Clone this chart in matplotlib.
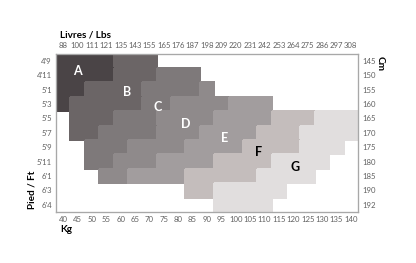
import numpy as np
import matplotlib
matplotlib.use('Agg')
import matplotlib.pyplot as plt
from matplotlib.colors import ListedColormap, BoundaryNorm

# ── DATA ───────────────────────────────────────────────────
lbs_labels = [88, 100, 111, 121, 135, 143, 155, 165, 176, 187, 198,
              209, 220, 231, 242, 253, 264, 275, 286, 297, 308]
kg_labels  = [40, 45, 50, 55, 60, 65, 70, 75, 80, 85, 90,
              95, 100, 105, 110, 115, 120, 125, 130, 135, 140]
ft_labels  = ["4'9", "4'11", "5'1", "5'3", "5'5", "5'7",
              "5'9", "5'11", "6'1", "6'3", "6'4"]
cm_labels  = [145, 150, 155, 160, 165, 170, 175, 180, 185, 190, 192]

sizes = ['A', 'B', 'C', 'D', 'E', 'F', 'G']

# one string per height row (top -> bottom), one char per weight column
size_grid = [
    "AAAABBB..............",
    "AAAABBBCCC...........",
    "AABBBBCCCCD..........",
    "ABBBBBCCDDDDEEE......",
    ".BBBCCCDDDDEEEEFFFGGG",
    ".BBCCCCDDDEEEEFFFGGGG",
    "..CCCDDDDEEEEFFFFGGG.",
    "..CCDDDEEEEFFFFGGGG..",
    "...DDEEEEFFFFFGGGG...",
    ".........FFGGGGG.....",
    "...........GGGG......",
]

# ── STYLE ──────────────────────────────────────────────────
FONT = 'Lato'
TICK_COLOR = '#606060'
SPINE_COLOR = '#a8a8a8'
size_colors = ['#4a4446', '#6b6566', '#7e797a', '#8f8a8b',
               '#a29d9e', '#c4bdbc', '#e1dede']
text_colors = ['white', 'white', 'white', 'white', 'white', 'black', 'black']
label_xy = [(1.5, 1.2), (4.95, 2.7), (7.1, 3.7), (9.05, 4.9),
            (11.75, 5.85), (14.1, 6.85), (16.6, 7.9)]

plt.rcParams['font.family'] = [FONT, 'DejaVu Sans']

# ── GRID → CODES ───────────────────────────────────────────
code = {s: i for i, s in enumerate(sizes)}
mat = np.array([[code.get(ch, -1) for ch in row] for row in size_grid], dtype=float)
mat = np.ma.masked_less(mat, 0)

cmap = ListedColormap(size_colors)
norm = BoundaryNorm(np.arange(-0.5, len(sizes) + 0.5), cmap.N)

fig = plt.figure(figsize=(4.16, 2.63), dpi=100)
ax = fig.add_axes([56 / 416, 1 - 212 / 263, 302 / 416, 158.5 / 263])

ncol, nrow = len(kg_labels), len(ft_labels)
ax.pcolormesh(np.arange(ncol + 1), np.arange(nrow + 1), mat,
              cmap=cmap, norm=norm, edgecolors='face', linewidth=0.2)
ax.set_xlim(0, ncol)
ax.set_ylim(nrow, 0)

for s, (x, y), tc in zip(sizes, label_xy, text_colors):
    ax.text(x, y, s, ha='center', va='center', fontsize=9,
            fontweight='bold', color=tc)

xt = np.arange(ncol) + 0.5
yt = np.arange(nrow) + 0.5
ax.set_xticks(xt)
ax.set_xticklabels(kg_labels)
ax.set_yticks(yt)
ax.set_yticklabels(ft_labels)

axt = ax.twiny()
axt.set_xlim(ax.get_xlim())
axt.set_xticks(xt)
axt.set_xticklabels(lbs_labels)

axr = ax.twinx()
axr.set_ylim(ax.get_ylim())
axr.set_yticks(yt)
axr.set_yticklabels(cm_labels)

for a in (ax, axt, axr):
    a.tick_params(length=0, labelsize=5.6, labelcolor=TICK_COLOR, pad=3)
    for sp in a.spines.values():
        sp.set_color(SPINE_COLOR)
        sp.set_linewidth(0.8)

fig.text(60 / 416, 1 - 35 / 263, 'Livres / Lbs', ha='left', va='center',
         fontsize=7.2, fontweight='bold', color='black')
fig.text(60 / 416, 1 - 229 / 263, 'Kg', ha='left', va='center',
         fontsize=7.2, fontweight='bold', color='black')
fig.text(32 / 416, 1 - 190 / 263, 'Pied / Ft', ha='center', va='center',
         rotation=90, fontsize=7.2, fontweight='bold', color='black')
fig.text(380 / 416, 1 - 64 / 263, 'Cm', ha='center', va='center',
         rotation=-90, fontsize=7.2, fontweight='bold', color='black')

fig.savefig('out.png', dpi=100, facecolor='white')
